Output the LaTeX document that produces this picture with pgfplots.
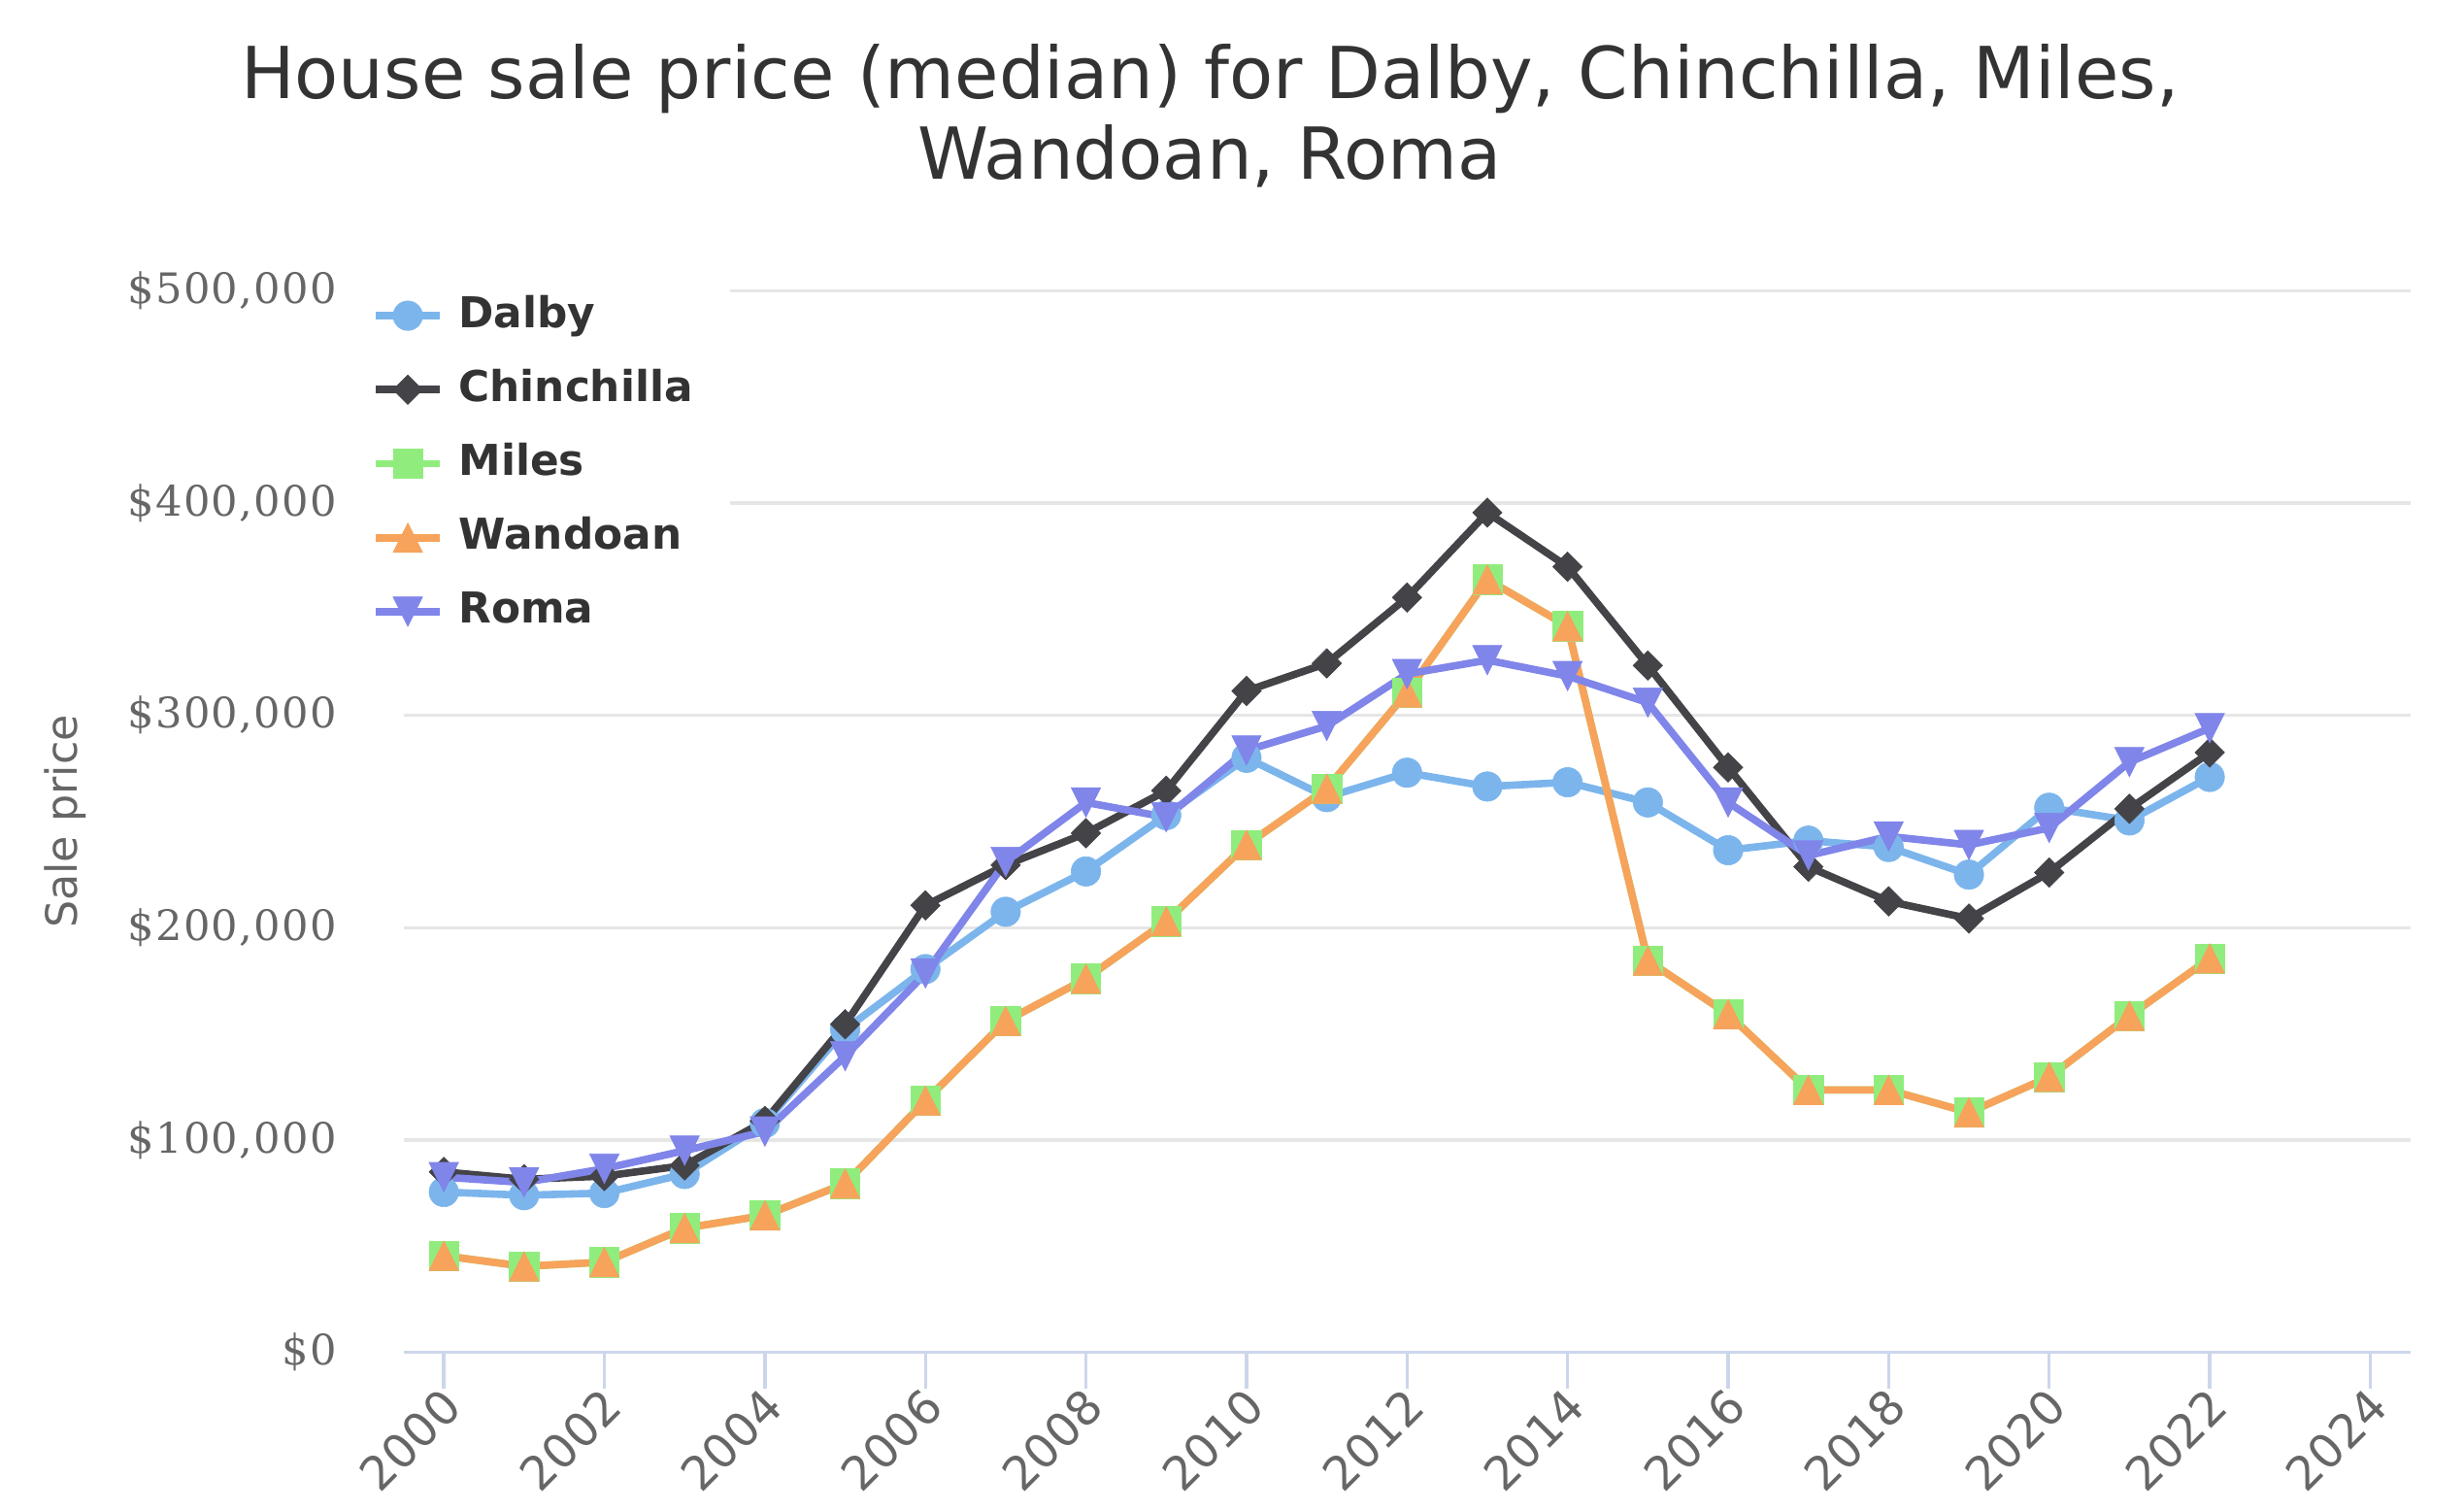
\documentclass[border=0pt]{standalone}
\usepackage{fontspec}
\setmainfont{DejaVu Sans}
\newfontfamily\ytickfont[LetterSpace=3]{DejaVu Serif}
\newfontfamily\xtickfont{DejaVu Sans}
\usepackage{pgfplots}
\pgfplotsset{compat=1.18}
\definecolor{cDalby}{HTML}{7CB5EC}
\definecolor{cChin}{HTML}{434348}
\definecolor{cMiles}{HTML}{90ED7D}
\definecolor{cWand}{HTML}{F7A35C}
\definecolor{cRoma}{HTML}{8085E9}
\definecolor{axisblue}{HTML}{CCD6EB}
\definecolor{gridgray}{HTML}{E6E6E6}
\definecolor{labgray}{HTML}{666666}
\definecolor{titlegray}{HTML}{333333}

\pgfdeclareplotmark{hctri}{%
  \pgfpathmoveto{\pgfqpoint{0pt}{\pgfplotmarksize}}%
  \pgfpathlineto{\pgfqpoint{\pgfplotmarksize}{-\pgfplotmarksize}}%
  \pgfpathlineto{\pgfqpoint{-\pgfplotmarksize}{-\pgfplotmarksize}}%
  \pgfpathclose\pgfusepathqfillstroke}
\pgfdeclareplotmark{hctridown}{%
  \pgfpathmoveto{\pgfqpoint{0pt}{-\pgfplotmarksize}}%
  \pgfpathlineto{\pgfqpoint{\pgfplotmarksize}{\pgfplotmarksize}}%
  \pgfpathlineto{\pgfqpoint{-\pgfplotmarksize}{\pgfplotmarksize}}%
  \pgfpathclose\pgfusepathqfillstroke}
\pgfdeclareplotmark{hcdiamond}{%
  \pgfpathmoveto{\pgfqpoint{0pt}{\pgfplotmarksize}}%
  \pgfpathlineto{\pgfqpoint{\pgfplotmarksize}{0pt}}%
  \pgfpathlineto{\pgfqpoint{0pt}{-\pgfplotmarksize}}%
  \pgfpathlineto{\pgfqpoint{-\pgfplotmarksize}{0pt}}%
  \pgfpathclose\pgfusepathqfillstroke}
\pgfdeclareplotmark{hcsquare}{%
  \pgfpathrectangle{\pgfqpoint{-\pgfplotmarksize}{-\pgfplotmarksize}}{\pgfqpoint{2\pgfplotmarksize}{2\pgfplotmarksize}}%
  \pgfusepathqfillstroke}

\begin{document}
\begin{tikzpicture}
\useasboundingbox (0,0) rectangle (423pt,259.5pt);
\begin{axis}[
  at={(69.3pt,27.4pt)}, anchor=south west,
  scale only axis, width=344.5pt, height=182.2pt,
  xmin=1999.5, xmax=2024.5, ymin=0, ymax=500000,
  clip=false,
  axis lines*=left,
  x axis line style={axisblue, line width=0.55pt},
  y axis line style={draw=none},
  xtick={2000,2002,...,2024},
  xticklabels={2000,2002,2004,2006,2008,2010,2012,2014,2016,2018,2020,2022,2024},
  xtick align=outside,
  xtick style={axisblue, line width=0.55pt},
  major tick length=6.2pt,
  ytick={0,100000,200000,300000,400000,500000},
  yticklabels={{\$0},{\$100,000},{\$200,000},{\$300,000},{\$400,000},{\$500,000}},
  ytick align=inside,
  ytick style={draw=none},
  scaled y ticks=false,
  ymajorgrids,
  major grid style={gridgray, line width=0.55pt},
  yticklabel style={font={\ytickfont\fontsize{7.2}{8}\selectfont}, text=labgray, anchor=east, inner sep=0pt, xshift=-11.3pt},
  xticklabel style={font={\xtickfont\fontsize{8}{9}\selectfont}, text=labgray, rotate=45, anchor=east, inner sep=0pt, xshift=0pt, yshift=-2.2pt},
  ylabel={Sale price},
  ylabel style={font={\fontsize{7.4}{9}\selectfont}, text=labgray, at={(axis description cs:-0.1684,0.5)}, anchor=center},
  every axis plot/.append style={line width=1.27pt},
  mark size=2.53pt,
  legend image code/.code={%
    \draw[#1, mark repeat=2, mark phase=2] plot coordinates {(0pt,0pt) (5.5pt,0pt) (11pt,0pt)};
  },
  legend cell align=left,
  legend style={
    at={(axis description cs:-0.0349,1.016)}, anchor=north west,
    draw=none, fill=white,
    font={\fontsize{7.3}{9}\selectfont\bfseries}, text=titlegray,
    inner xsep=6.4pt, inner ysep=3pt,
    row sep=4.7pt, column sep=2.6pt,
    nodes={inner sep=0pt, text height=6pt, text depth=2pt},
  },
]
\addplot[cDalby, mark=*, mark options={fill=cDalby, draw=cDalby, line width=0.1pt}] coordinates {
(2000,75500) (2001,74000) (2002,75000) (2003,84000) (2004,108000) (2005,152000)
(2006,180500) (2007,207500) (2008,226500) (2009,253000) (2010,280000) (2011,261500)
(2012,273000) (2013,266500) (2014,268500) (2015,259000) (2016,236500) (2017,241000)
(2018,238000) (2019,225000) (2020,256500) (2021,250500) (2022,271000)};
\addlegendentry{Dalby}
\addplot[cChin, mark=hcdiamond, mark options={fill=cChin, draw=cChin, line width=0.1pt}] coordinates {
(2000,85000) (2001,81500) (2002,83000) (2003,88000) (2004,109000) (2005,154500)
(2006,210500) (2007,229500) (2008,244500) (2009,264500) (2010,311500) (2011,324500)
(2012,355500) (2013,395500) (2014,370000) (2015,323500) (2016,275500) (2017,228700)
(2018,212400) (2019,204300) (2020,226000) (2021,256000) (2022,282500)};
\addlegendentry{Chinchilla}
\addplot[cMiles, mark=hcsquare, mark options={fill=cMiles, draw=cMiles, line width=0.1pt}] coordinates {
(2000,45500) (2001,40500) (2002,42500) (2003,58500) (2004,64500) (2005,79500)
(2006,118500) (2007,156000) (2008,176000) (2009,203000) (2010,239000) (2011,265500)
(2012,310800) (2013,364000) (2014,342000) (2015,184500) (2016,159300) (2017,123600)
(2018,123600) (2019,113000) (2020,129700) (2021,158500) (2022,185500)};
\addlegendentry{Miles}
\addplot[cWand, mark=hctri, mark options={fill=cWand, draw=cWand, line width=0.1pt}] coordinates {
(2000,45500) (2001,40500) (2002,42500) (2003,58500) (2004,64500) (2005,79500)
(2006,118500) (2007,156000) (2008,176000) (2009,203000) (2010,239000) (2011,265500)
(2012,310800) (2013,364000) (2014,342000) (2015,184500) (2016,159300) (2017,123600)
(2018,123600) (2019,113000) (2020,129700) (2021,158500) (2022,185500)};
\addlegendentry{Wandoan}
\addplot[cRoma, mark=hctridown, mark options={fill=cRoma, draw=cRoma, line width=0.1pt}] coordinates {
(2000,82500) (2001,80000) (2002,86500) (2003,95000) (2004,104000) (2005,139500)
(2006,178500) (2007,231000) (2008,259000) (2009,252000) (2010,283500) (2011,295000)
(2012,319500) (2013,326000) (2014,318500) (2015,306000) (2016,259000) (2017,234000)
(2018,243000) (2019,239000) (2020,247000) (2021,278000) (2022,294000)};
\addlegendentry{Roma}
\end{axis}
\node[anchor=base, inner sep=0pt, text=titlegray, font={\fontsize{12.3}{14}\selectfont}] at (207.7pt,242.5pt) {House sale price (median) for Dalby, Chinchilla, Miles,};
\node[anchor=base, inner sep=0pt, text=titlegray, font={\fontsize{12.3}{14}\selectfont}] at (207.7pt,228.75pt) {Wandoan, Roma};
\end{tikzpicture}
\end{document}
